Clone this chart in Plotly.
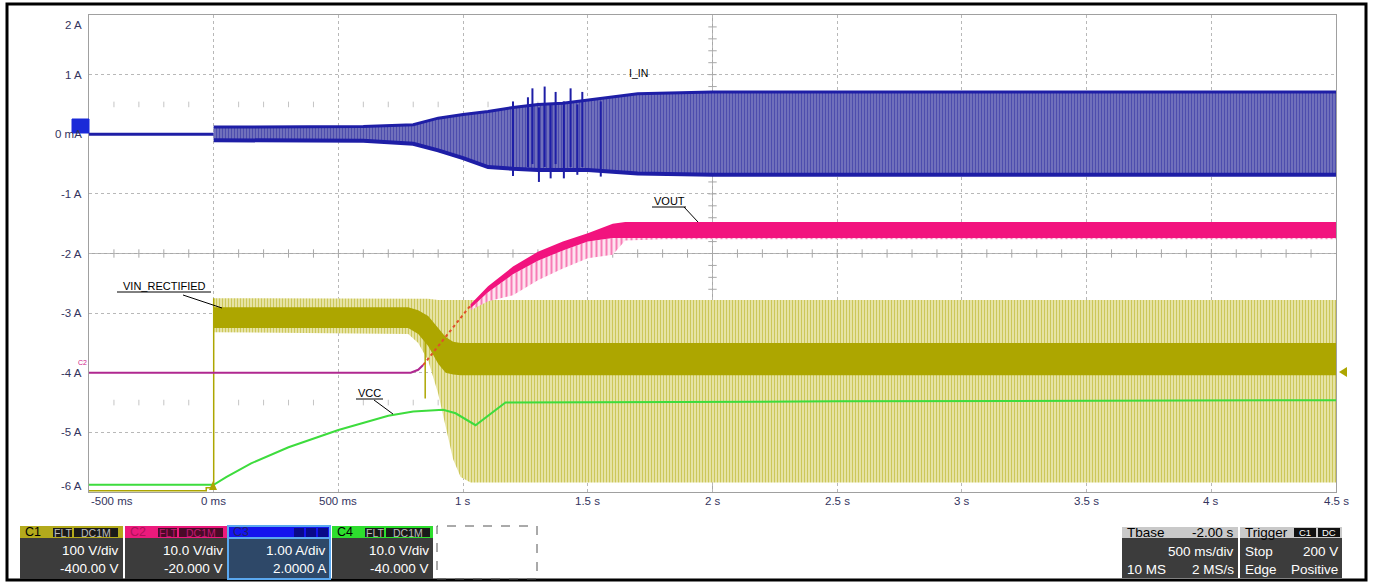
import plotly.graph_objects as go
import numpy as np

# ---------------- data ----------------
x_tick_vals = [-0.5, 0.0, 0.5, 1.0, 1.5, 2.0, 2.5, 3.0, 3.5, 4.0, 4.5]
x_tick_text = ["-500 ms", "0 ms", "500 ms", "1 s", "1.5 s", "2 s", "2.5 s", "3 s", "3.5 s", "4 s", "4.5 s"]
y_tick_vals = [2, 1, 0, -1, -2, -3, -4, -5, -6]
y_tick_text = ["2 A", "1 A", "0 mA", "-1 A", "-2 A", "-3 A", "-4 A", "-5 A", "-6 A"]

# VIN_RECTIFIED (C1, olive)
vin_pre_t = [-0.5, -0.03, -0.03, 0.0, 0.0]
vin_pre_v = [-5.98, -5.98, -5.93, -5.93, -2.75]
vin_t = [0.0, 0.78, 0.82, 0.86, 0.90, 0.93, 0.96, 0.99, 1.03, 4.5]
vin_stripe_top = [-2.75, -2.75, -2.75, -2.76, -2.78, -2.78, -2.78, -2.78, -2.78, -2.78]
vin_solid_top = [-2.90, -2.90, -2.95, -3.05, -3.25, -3.40, -3.48, -3.50, -3.50, -3.50]
vin_solid_bot = [-3.25, -3.25, -3.35, -3.55, -3.85, -4.00, -4.03, -4.04, -4.04, -4.04]
vin_stripe_bot = [-3.32, -3.35, -3.50, -3.80, -4.35, -4.90, -5.45, -5.75, -5.84, -5.84]
vin_spike_t = [0.848, 0.848]
vin_spike_v = [-3.30, -4.43]

# VCC (C4, green)
vcc_t = [-0.5, 0.0, 0.05, 0.15, 0.3, 0.5, 0.7, 0.8, 0.92, 0.97, 1.05, 1.17, 2.5, 4.5]
vcc_v = [-5.88, -5.88, -5.75, -5.52, -5.25, -4.96, -4.72, -4.65, -4.62, -4.68, -4.88, -4.50, -4.48, -4.46]

# VOUT (C2, magenta)
vout_pre_t = [-0.5, 0.79, 0.82, 0.84]
vout_pre_v = [-4.0, -4.0, -3.95, -3.87]
vout_mid_t = [0.84, 1.03]
vout_mid_v = [-3.87, -2.87]
vout_t = [1.03, 1.1, 1.2, 1.3, 1.4, 1.5, 1.6, 1.65, 1.8, 4.5]
vout_top = [-2.85, -2.55, -2.22, -1.97, -1.80, -1.66, -1.50, -1.47, -1.47, -1.47]
vout_mid = [-2.92, -2.65, -2.35, -2.12, -1.95, -1.80, -1.74, -1.74, -1.74, -1.74]
vout_low = [-2.95, -2.80, -2.70, -2.45, -2.25, -2.08, -2.02, -1.78, -1.76, -1.76]

# I_IN (C3, blue)
iin_pre_t = [-0.5, 0.0]
iin_pre_v = [0.0, 0.0]
iin_t = [0.0, 0.3, 0.6, 0.8, 0.9, 1.0, 1.1, 1.2, 1.3, 1.4, 1.5, 1.6, 1.7, 2.0, 4.5]
iin_hi = [0.12, 0.12, 0.13, 0.16, 0.27, 0.33, 0.38, 0.45, 0.50, 0.52, 0.57, 0.63, 0.68, 0.71, 0.71]
iin_lo = [-0.10, -0.10, -0.11, -0.16, -0.27, -0.40, -0.55, -0.58, -0.60, -0.60, -0.60, -0.63, -0.66, -0.68, -0.68]
iin_spk_t = [1.20, 1.26, 1.278, 1.304, 1.327, 1.351, 1.371, 1.404, 1.431, 1.458, 1.478, 1.552]
iin_spk_hi = [0.55, 0.62, 0.77, 0.45, 0.80, 0.50, 0.71, 0.55, 0.77, 0.50, 0.71, 0.55]
iin_spk_lo = [-0.70, -0.55, -0.50, -0.80, -0.55, -0.74, -0.50, -0.74, -0.55, -0.68, -0.55, -0.71]

# ---------------- geometry helpers (pixels -> paper) ----------------
W, H = 1373, 583
PL, PR, PT, PB = 89, 1336, 15, 492


def px(x):
    return (x - PL) / (PR - PL)


def py(y):
    return (PB - y) / (PB - PT)


OLIVE = "#ada600"
OLIVE_LIGHT = "#ebe8b4"
PINK = "#f2137e"
BLUE = "#1e1ea6"
GREEN = "#3ddc3d"
LABEL = "#34345e"
FONT = "Liberation Sans, Arial, sans-serif"
BOXF = 13.5

fig = go.Figure()


def band(t, lo, hi, color=None, pattern=None):
    fig.add_trace(go.Scatter(x=t, y=lo, mode="lines", line=dict(width=0), hoverinfo="skip", showlegend=False))
    kw = dict(x=t, y=hi, mode="lines", line=dict(width=0), fill="tonexty", hoverinfo="skip", showlegend=False)
    if pattern:
        kw["fillpattern"] = pattern
        kw["fillcolor"] = pattern.get("bgcolor")
    else:
        kw["fillcolor"] = color
    fig.add_trace(go.Scatter(**kw))


# decorations: center axes with ticks and dotted minor rows
minor_x = [v for v in np.round(np.arange(-0.4, 4.5, 0.1), 2) if abs(v * 2 - round(v * 2)) > 1e-6]
for yrow in (0.5, -4.5):
    fig.add_trace(go.Scatter(x=minor_x, y=[yrow] * len(minor_x), mode="markers",
                             marker=dict(symbol="line-ns", size=4, line=dict(width=1, color="#c4c4c4")),
                             hoverinfo="skip", showlegend=False))
cx_ticks = list(np.round(np.arange(-0.4, 4.5, 0.1), 2))
fig.add_trace(go.Scatter(x=cx_ticks, y=[-2] * len(cx_ticks), mode="markers",
                         marker=dict(symbol="line-ns", size=6, line=dict(width=1, color="#a8a8a8")),
                         hoverinfo="skip", showlegend=False))
cy_ticks = list(np.round(np.arange(-5.8, 2.0, 0.2), 2))
fig.add_trace(go.Scatter(x=[2.0] * len(cy_ticks), y=cy_ticks, mode="markers",
                         marker=dict(symbol="line-ew", size=6, line=dict(width=1, color="#a8a8a8")),
                         hoverinfo="skip", showlegend=False))

# ---- VIN_RECTIFIED
band(vin_t, vin_stripe_bot, vin_stripe_top,
     pattern=dict(shape="|", fgcolor=OLIVE, bgcolor=OLIVE_LIGHT, size=3, solidity=0.45))
band(vin_t, vin_solid_bot, vin_solid_top, color=OLIVE)
fig.add_trace(go.Scatter(x=vin_pre_t, y=vin_pre_v, mode="lines", line=dict(color=OLIVE, width=1.5),
                         hoverinfo="skip", showlegend=False))
fig.add_trace(go.Scatter(x=vin_spike_t, y=vin_spike_v, mode="lines", line=dict(color=OLIVE, width=1.5),
                         hoverinfo="skip", showlegend=False))

# ---- VCC
fig.add_trace(go.Scatter(x=vcc_t, y=vcc_v, mode="lines", line=dict(color=GREEN, width=2),
                         hoverinfo="skip", showlegend=False))

# ---- VOUT
fig.add_trace(go.Scatter(x=vout_pre_t, y=vout_pre_v, mode="lines", line=dict(color="#b02890", width=2),
                         hoverinfo="skip", showlegend=False))
fig.add_trace(go.Scatter(x=vout_mid_t, y=vout_mid_v, mode="lines", line=dict(color="#e0502a", width=2, dash="dot"),
                         hoverinfo="skip", showlegend=False))
band(vout_t, vout_low, vout_mid,
     pattern=dict(shape="|", fgcolor=PINK, bgcolor="#fde4ef", size=5, solidity=0.4))
band(vout_t, vout_mid, vout_top, color=PINK)

# ---- I_IN
fig.add_trace(go.Scatter(x=iin_pre_t, y=iin_pre_v, mode="lines", line=dict(color=BLUE, width=3),
                         hoverinfo="skip", showlegend=False))
band(iin_t, iin_lo, iin_hi,
     pattern=dict(shape="|", fgcolor="#1e1e9a", bgcolor="#7c7cc0", size=3, solidity=0.5))
fig.add_trace(go.Scatter(x=iin_t, y=iin_hi, mode="lines", line=dict(color=BLUE, width=3),
                         hoverinfo="skip", showlegend=False))
fig.add_trace(go.Scatter(x=iin_t, y=iin_lo, mode="lines", line=dict(color=BLUE, width=4),
                         hoverinfo="skip", showlegend=False))
sx, sy = [], []
for t, h, l in zip(iin_spk_t, iin_spk_hi, iin_spk_lo):
    sx += [t, t, None]
    sy += [l, h, None]
fig.add_trace(go.Scatter(x=sx, y=sy, mode="lines", line=dict(color=BLUE, width=2),
                         hoverinfo="skip", showlegend=False))

# ---------------- shapes & annotations ----------------
shapes = []
ann = []


def prect(x0, y0, x1, y1, fill, line=None, lw=0, dash=None, layer="above"):
    d = dict(type="rect", xref="paper", yref="paper", x0=px(x0), x1=px(x1), y0=py(y1), y1=py(y0),
             fillcolor=fill, line=dict(width=lw, color=line or fill), layer=layer)
    if dash:
        d["line"]["dash"] = dash
    shapes.append(d)


def pline(x0, y0, x1, y1, color="black", w=1):
    shapes.append(dict(type="line", xref="paper", yref="paper", x0=px(x0), x1=px(x1), y0=py(y0), y1=py(y1),
                       line=dict(color=color, width=w)))


def ptext(x, y, s, size=12, color="white", anchor="left"):
    ann.append(dict(x=px(x), y=py(y), xref="paper", yref="paper", text=s, showarrow=False,
                    xanchor=anchor, yanchor="middle", font=dict(family=FONT, size=size, color=color)))


# center cross lines
shapes.append(dict(type="line", xref="x", yref="paper", x0=2.0, x1=2.0, y0=0, y1=1,
                   line=dict(color="#a8a8a8", width=1), layer="below"))
shapes.append(dict(type="line", xref="paper", yref="y", x0=0, x1=1, y0=-2, y1=-2,
                   line=dict(color="#a8a8a8", width=1), layer="below"))

# outer frame
prect(7, 4, 1366, 580, "rgba(0,0,0,0)", line="black", lw=3)

# axis tick labels
for v, s in zip(y_tick_vals, y_tick_text):
    shift = -10 if v == 2 else (6 if v == -6 else 0)
    ann.append(dict(x=px(84), xref="paper", y=v, yref="y", yshift=shift, text=s, showarrow=False,
                    xanchor="right", yanchor="middle", font=dict(family=FONT, size=11.5, color=LABEL)))
for v, s in zip(x_tick_vals, x_tick_text):
    shift = 23 if v == -0.5 else 0
    ann.append(dict(x=v, xref="x", y=py(501), yref="paper", xshift=shift, text=s, showarrow=False,
                    xanchor="center", yanchor="middle", font=dict(family=FONT, size=11.5, color=LABEL)))

# signal labels
ptext(638, 73, "I_IN", 10.5, "black", "center")
ptext(669, 201, "VOUT", 11, "black", "center")
pline(652, 207, 686, 207)
pline(684, 207, 698, 222)
ptext(164, 286, "VIN_RECTIFIED", 11, "black", "center")
pline(117, 292, 211, 292)
pline(183, 295, 222, 308)
ptext(369, 393, "VCC", 11, "black", "center")
pline(356, 399, 383, 399)
pline(374, 400, 393, 414)

# markers on the screen edges
prect(72, 119, 89, 133, "#1a2ad8", line="#1a2ad8", lw=1)
shapes.append(dict(type="path", xref="paper", yref="paper",
                   path=f"M {px(1339)} {py(372)} L {px(1347)} {py(367)} L {px(1347)} {py(377)} Z",
                   fillcolor=OLIVE, line=dict(width=0)))
shapes.append(dict(type="path", xref="paper", yref="paper",
                   path=f"M {px(213)} {py(481)} L {px(209)} {py(490)} L {px(217)} {py(490)} Z",
                   fillcolor=OLIVE, line=dict(width=0)))
ptext(82, 362, "C2", 7, "#d0208a", "center")

# channel boxes
channels = [
    (20, 123, "#b3aa1c", "C1", "100 V/div", "-400.00 V", "#3c3c3c", None),
    (125, 227, "#ec1a7c", "C2", "10.0 V/div", "-20.000 V", "#3c3c3c", None),
    (228, 330, "#1414ee", "C3", "1.00 A/div", "2.0000 A", "#2e4868", "#5aa8f0"),
    (332, 433, "#2ede2e", "C4", "10.0 V/div", "-40.000 V", "#3c3c3c", None),
]
for x0, x1, col, name, l1, l2, bot, border in channels:
    prect(x0, 526, x1, 538, col)
    prect(x0, 538, x1, 579, bot, line=border, lw=2 if border else 0)
    if border:
        prect(x0, 526, x1, 579, "rgba(0,0,0,0)", line=border, lw=2)
    dim = name in ("C2", "C3")
    ptext(x0 + 3, 532, name, 12.5, "#222266" if name == "C3" else ("#b0105a" if name == "C2" else "black"))
    if name == "C3":
        for bx in (294, 306, 318):
            prect(bx, 528, bx + 10, 537, "#0a0a88")
    else:
        prect(x0 + 33, 528, x0 + 52, 537, "#1a1a1a" if not dim else "#4a0a28")
        prect(x0 + 54, 528, x0 + 98, 537, "#1a1a1a" if not dim else "#4a0a28")
        ptext(x0 + 42.5, 532.5, "FLT", 10.5, "#bdbdbd" if not dim else "#c01870", "center")
        ptext(x0 + 76, 532.5, "DC1M", 10.5, "#bdbdbd" if not dim else "#c01870", "center")
    ptext(x1 - 2, 550, l1, BOXF, "white", "right")
    ptext(x1 - 2, 568, l2, BOXF, "white", "right")
prect(437, 526, 537, 579, "rgba(0,0,0,0)", line="#555555", lw=1, dash="dash")

# timebase / trigger boxes
prect(1122, 527, 1238, 538, "#c9c9c9")
prect(1122, 538, 1238, 578, "#3c3c3c")
ptext(1125, 532.5, "Tbase", BOXF, "black")
ptext(1236, 532.5, "-2.00 s", BOXF, "black", "right")
ptext(1236, 551, "500 ms/div", BOXF, "white", "right")
ptext(1125, 569, "10 MS", BOXF, "white")
ptext(1236, 569, "2 MS/s", BOXF, "white", "right")
prect(1240, 527, 1342, 538, "#c9c9c9")
prect(1240, 538, 1342, 578, "#3c3c3c")
ptext(1243, 532.5, "Trigger", BOXF, "black")
prect(1294, 528, 1316, 537, "#111111")
prect(1318, 528, 1340, 537, "#111111")
ptext(1305, 532.5, "C1", 9.5, "white", "center")
ptext(1329, 532.5, "DC", 9.5, "white", "center")
ptext(1243, 551, "Stop", BOXF, "white")
ptext(1340, 551, "200 V", BOXF, "white", "right")
ptext(1243, 569, "Edge", BOXF, "white")
ptext(1340, 569, "Positive", BOXF, "white", "right")

fig.update_layout(
    width=W, height=H,
    margin=dict(l=PL, r=W - PR, t=PT, b=H - PB),
    paper_bgcolor="white", plot_bgcolor="white",
    showlegend=False,
    shapes=shapes, annotations=ann,
    xaxis=dict(range=[-0.5, 4.5], tickvals=x_tick_vals, showticklabels=False, ticks="",
               showgrid=True, gridcolor="#b8b8b8", griddash="dot", gridwidth=1,
               showline=True, linecolor="#a0a0a0", linewidth=1, mirror=True, zeroline=False,
               fixedrange=True),
    yaxis=dict(range=[-6, 2], tickvals=y_tick_vals, showticklabels=False, ticks="",
               showgrid=True, gridcolor="#b8b8b8", griddash="dot", gridwidth=1,
               showline=True, linecolor="#a0a0a0", linewidth=1, mirror=True, zeroline=False,
               fixedrange=True),
)
fig.write_html("out.html", config={"displayModeBar": False},
               post_script="document.body.style.margin='0';document.body.style.overflow='hidden';")
